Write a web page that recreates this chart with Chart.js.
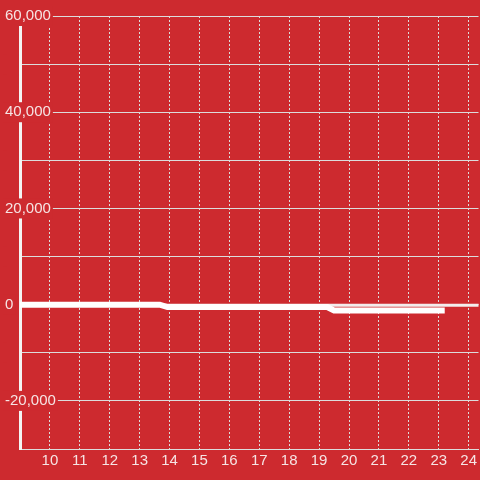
<!DOCTYPE html>
<html>
<head>
<meta charset="utf-8">
<script src="https://cdn.jsdelivr.net/npm/chart.js@4/dist/chart.umd.min.js"></script>
<style>
  html, body { margin: 0; padding: 0; background: #cd2a2f; }
  #wrap { width: 480px; height: 480px; position: relative; }
</style>
</head>
<body>
<div id="wrap"><canvas id="chart"></canvas></div>
<script>
// thick series: flat at zero, two small steps down
const mainX = [9, 13.67, 13.93, 19.27, 19.5, 23.2];
const mainY = [0, 0, -500, -500, -1200, -1200];

// thin series: stays near zero across the whole range
const refX = [9, 10, 11, 12, 13, 14, 15, 16, 17, 18, 19, 20, 21, 22, 23, 24, 25];
const refY = [-100, -100, -100, -100, -100, -100, -100, -100, -100, -100, -100, -100, -100, -100, -100, -100, -100];

const xTicks = [10, 11, 12, 13, 14, 15, 16, 17, 18, 19, 20, 21, 22, 23, 24];
const yLabelled = [-20000, 0, 20000, 40000, 60000];

const BG = "#cd2a2f";
const TEXT = "#f6e4e4";
const GRID = "#dcdcdc";

function toPoints(xs, ys) {
  return xs.map(function (x, i) {
    return { x: x, y: ys[i] };
  });
}

Chart.defaults.font.size = 15;
Chart.defaults.color = TEXT;

new Chart(document.getElementById("chart"), {
  type: "line",
  data: {
    datasets: [
      {
        label: "main",
        data: toPoints(mainX, mainY),
        borderColor: "#ffffff",
        borderWidth: 6,
        pointRadius: 0,
        tension: 0,
        order: 0,
      },
      {
        label: "ref",
        data: toPoints(refX, refY),
        borderColor: "#f3eded",
        borderWidth: 3,
        pointRadius: 0,
        tension: 0,
        order: 1,
      },
    ],
  },
  options: {
    responsive: true,
    maintainAspectRatio: false,
    animation: false,
    layout: { padding: { left: 5, right: 0, top: 16, bottom: 7 } },
    plugins: {
      legend: { display: false },
      tooltip: { enabled: false },
    },
    scales: {
      x: {
        type: "linear",
        min: 9,
        max: 24.33,
        ticks: {
          stepSize: 1,
          includeBounds: false,
          maxRotation: 0,
          autoSkip: false,
          padding: 3,
          callback: function (v) {
            return xTicks.indexOf(v) >= 0 ? String(v) : "";
          },
        },
        grid: { color: GRID, lineWidth: 1, drawTicks: false },
        border: { color: GRID, width: 1, dash: [2, 2] },
      },
      y: {
        min: -30000,
        max: 60000,
        afterFit: function (scale) {
          scale.width = 15;
        },
        ticks: {
          stepSize: 10000,
          mirror: true,
          crossAlign: "near",
          padding: -15,
          showLabelBackdrop: true,
          backdropColor: BG,
          backdropPadding: { left: 2, right: 2, top: 1, bottom: 1 },
          callback: function (v) {
            return yLabelled.indexOf(v) >= 0 ? v.toLocaleString("en-US") : "";
          },
        },
        grid: { color: GRID, lineWidth: 1, drawTicks: false },
        border: { color: "#f4f4f4", width: 3 },
      },
    },
  },
});
</script>
</body>
</html>
